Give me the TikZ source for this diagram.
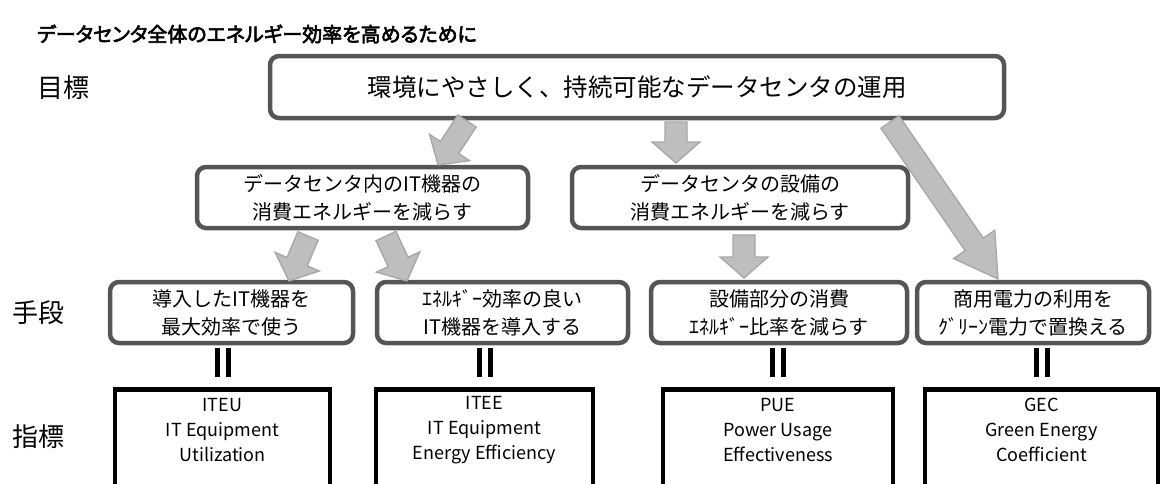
\documentclass[tikz,border=0pt]{standalone}
\usepackage{fontspec}
\setmainfont{Noto Sans CJK JP}
\newfontfamily\titlefont[FakeBold=3,RawFeature=+palt]{Noto Sans CJK JP}
\usetikzlibrary{calc}
\definecolor{boxline}{HTML}{555555}
\definecolor{arrfill}{HTML}{BEBEBE}
\definecolor{arrline}{HTML}{A6A6A6}
\tikzset{
  rbox/.style={draw=boxline, line width=4.5pt, rounded corners=9pt, fill=white, align=center, inner sep=0pt},
  midtext/.style={font=\fontsize{20}{28}\selectfont},
  lbl/.style={anchor=west, inner sep=0pt, font=\fontsize{26}{28}\selectfont},
  metricbox/.style={draw=black, line width=4.5pt, minimum height=160pt, anchor=north, inner sep=0pt},
  metrictext/.style={align=center, inner sep=0pt, font=\fontsize{18}{25}\selectfont},
  eqbar/.style={draw=black, line width=5pt},
  blockarrow/.style={fill=arrfill, draw=arrline, line width=1.3pt, line join=miter},
}
\newcommand\blockarr[5]{%
  \path let \p1=($(#2)-(#1)$), \n1={atan2(\y1,\x1)}, \n2={veclen(\x1,\y1)} in
    \pgfextra{\xdef\barang{\n1}\xdef\barlen{\n2}};
  \begin{scope}[shift={(#1)}, rotate=\barang, x=1pt, y=1pt]
    \draw[blockarrow] (0,-#3) -- ({\barlen-#5},-#3) -- ({\barlen-#5},-#4) -- (\barlen,0)
      -- ({\barlen-#5},#4) -- ({\barlen-#5},#3) -- (0,#3) -- cycle;
  \end{scope}}
\begin{document}
\begin{tikzpicture}[x=1pt,y=-1pt]
\useasboundingbox (0,0) rectangle (1160,483);
\clip (0,0) rectangle (1160,483);

% title and row labels
\node[anchor=west, inner sep=0pt, font=\titlefont\fontsize{20}{24}\selectfont] (title) at (37,34) {データセンタ全体のエネルギー効率を高めるために};
\node[lbl] (lgoal) at (37,88) {目標};
\node[lbl] (lmeans) at (12,313) {手段};
\node[lbl] (lindex) at (12,437) {指標};

% goal
\node[rbox, minimum width=734pt, minimum height=62pt, font=\fontsize{24.5}{28}\selectfont] (goal) at (637,87) {環境にやさしく、持続可能なデータセンタの運用};

% second level
\node[rbox, midtext, minimum width=331pt, minimum height=61pt] (itred) at (362.5,197.5) {データセンタ内のIT機器の\\消費エネルギーを減らす};
\node[rbox, midtext, minimum width=336pt, minimum height=61pt] (facred) at (740,197.5) {データセンタの設備の\\消費エネルギーを減らす};

% means
\node[rbox, midtext, minimum width=243pt, minimum height=61pt] (s1) at (231.5,312.5) {導入したIT機器を\\最大効率で使う};
\node[rbox, midtext, minimum width=251pt, minimum height=61pt] (s2) at (502.5,312.5) {ｴﾈﾙｷﾞｰ効率の良い\\IT機器を導入する};
\node[rbox, midtext, minimum width=256pt, minimum height=61pt] (s3) at (779,312.5) {設備部分の消費\\ｴﾈﾙｷﾞｰ比率を減らす};
\node[rbox, midtext, minimum width=232pt, minimum height=61pt] (s4) at (1033,312.5) {商用電力の利用を\\ｸﾞﾘｰﾝ電力で置換える};

% metric boxes
\node[metricbox, minimum width=215pt] (m1) at (222.5,387) {};
\node[metricbox, minimum width=217pt] (m2) at (484.5,387) {};
\node[metricbox, minimum width=230pt] (m3) at (778,387) {};
\node[metricbox, minimum width=233pt] (m4) at (1041.5,387) {};
\node[metrictext] (mt1) at (222.5,430) {ITEU\\IT Equipment\\Utilization};
\node[metrictext] (mt2) at (484.5,430) {ITEE\\IT Equipment\\Energy Efficiency};
\node[metrictext] (mt3) at (778,430) {PUE\\Power Usage\\Effectiveness};
\node[metrictext] (mt4) at (1041.5,430) {GEC\\Green Energy\\Coefficient};

% equality bars
\foreach \m in {m1,m2,m3,m4}{
  \draw[eqbar] ([xshift=-5.5pt,yshift=10pt]\m.north) -- ([xshift=-5.5pt,yshift=39pt]\m.north);
  \draw[eqbar] ([xshift=5.5pt,yshift=10pt]\m.north) -- ([xshift=5.5pt,yshift=39pt]\m.north);
}

% block arrows
\coordinate (a1s) at (467,121); \coordinate (a1e) at (438,165);
\coordinate (a2s) at (676,122); \coordinate (a2e) at (676,163);
\coordinate (a3s) at (890,122); \coordinate (a3e) at (998,279);
\coordinate (a4s) at (308,236); \coordinate (a4e) at (289,281);
\coordinate (a5s) at (386,236); \coordinate (a5e) at (407,281);
\coordinate (a6s) at (744,235); \coordinate (a6e) at (744,278);
\blockarr{a1s}{a1e}{11}{24}{21}
\blockarr{a2s}{a2e}{11}{24}{21}
\blockarr{a3s}{a3e}{11}{25}{42}
\blockarr{a4s}{a4e}{11}{24}{21}
\blockarr{a5s}{a5e}{11}{24}{21}
\blockarr{a6s}{a6e}{11}{24}{21}
\end{tikzpicture}
\end{document}
